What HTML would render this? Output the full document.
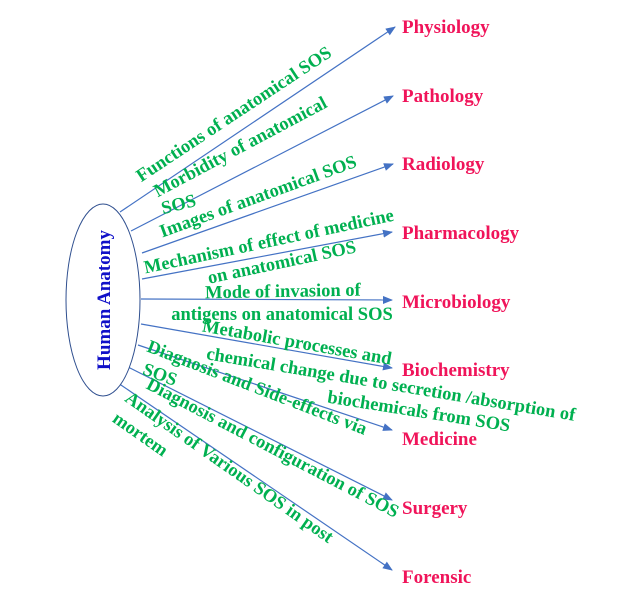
<!DOCTYPE html>
<html><head><meta charset="utf-8"><style>
html,body{margin:0;padding:0;background:#fff;}
svg{display:block;}
.g{font-family:"Liberation Serif",serif;font-weight:bold;font-size:18.5px;fill:#00b050;}
.p{font-family:"Liberation Serif",serif;font-weight:bold;font-size:19px;fill:#f0145a;}
</style></head><body>
<svg width="643" height="603" viewBox="0 0 643 603" xmlns="http://www.w3.org/2000/svg">
<defs><marker id="a" markerWidth="10" markerHeight="8" refX="9" refY="4" orient="auto" markerUnits="userSpaceOnUse"><path d="M0,0 L10,4 L0,8 Z" fill="#4472c4"/></marker></defs>
<g stroke="#4472c4" stroke-width="1.2" fill="none" marker-end="url(#a)">
<line x1="120" y1="212" x2="395" y2="27"/>
<line x1="131" y1="231" x2="393" y2="96"/>
<line x1="142" y1="253" x2="393" y2="164"/>
<line x1="142" y1="279" x2="392" y2="232"/>
<line x1="141" y1="299" x2="392" y2="300"/>
<line x1="141" y1="324" x2="392" y2="368"/>
<line x1="138" y1="345" x2="392" y2="430"/>
<line x1="128" y1="367" x2="392" y2="500"/>
<line x1="118" y1="383" x2="392" y2="570"/>
</g>
<ellipse cx="103" cy="300" rx="37" ry="96" fill="#fff" stroke="#2f4f8f" stroke-width="1"/>
<text transform="translate(110,300) rotate(-90)" text-anchor="middle" font-family="Liberation Serif,serif" font-weight="bold" font-size="19" fill="#1010c8">Human Anatomy</text>
<text class="p" x="402" y="33">Physiology</text>
<text class="p" x="402" y="102">Pathology</text>
<text class="p" x="402" y="170">Radiology</text>
<text class="p" x="402" y="239">Pharmacology</text>
<text class="p" x="402" y="308">Microbiology</text>
<text class="p" x="402" y="376">Biochemistry</text>
<text class="p" x="402" y="445">Medicine</text>
<text class="p" x="402" y="514">Surgery</text>
<text class="p" x="402" y="583">Forensic</text>
<g class="g" text-anchor="middle">
<text transform="translate(237,119) rotate(-33.5)">Functions of anatomical SOS</text>
<text transform="translate(243,152) rotate(-28)">Morbidity of anatomical</text>
<text transform="translate(180,210) rotate(-14)">SOS</text>
<text transform="translate(260,202) rotate(-20)">Images of anatomical SOS</text>
<text transform="translate(270,247) rotate(-12)">Mechanism of effect of medicine</text>
<text transform="translate(283,268) rotate(-12)">on anatomical SOS</text>
<text transform="translate(283,297) rotate(-1)">Mode of invasion of</text>
<text transform="translate(282,320)">antigens on anatomical SOS</text>
<text transform="translate(296,348) rotate(10)">Metabolic processes and</text>
<text transform="translate(390,390) rotate(9.5)">chemical change due to secretion /absorption of</text>
<text transform="translate(418,417) rotate(9)">biochemicals from SOS</text>
<text transform="translate(255,393) rotate(21)">Diagnosis and Side-effects via</text>
<text transform="translate(158,380) rotate(20)">SOS</text>
<text transform="translate(270,453) rotate(27.5)">Diagnosis and configuration of SOS</text>
<text transform="translate(226,472) rotate(35)">Analysis of Various SOS in post</text>
<text transform="translate(137,439) rotate(35)">mortem</text>
</g>
</svg>
</body></html>
